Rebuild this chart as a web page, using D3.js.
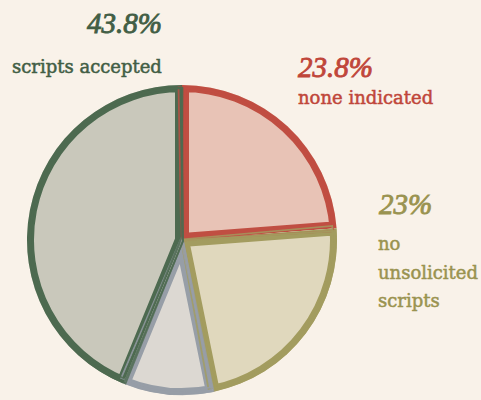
<!DOCTYPE html>
<html><head><meta charset="utf-8">
<script src="https://cdn.jsdelivr.net/npm/d3@7"></script>
<style>
html,body{margin:0;padding:0;background:#f9f2e9;}
svg{display:block;}
</style></head>
<body>
<svg id="chart" width="481" height="400"></svg>
<script>
// ---- data ----
const categories = ["none indicated", "no unsolicited scripts", "other", "scripts accepted"];
const values = [23.8, 23, 9.4, 43.8];
const pctLabels = ["23.8%", "23%", "", "43.8%"];
const labelLines = [["none indicated"], ["no", "unsolicited", "scripts"], [], ["scripts accepted"]];

// ---- styles ----
const strokeColors = ["#c04e42", "#a39c5f", "#979ea7", "#4d6a50"];
const fillColors = ["#e8c3b6", "#e0d8bd", "#dcd8d2", "#c9c8bb"];
const textColors = ["#c0463a", "#9a9350", "#979ea7", "#425e45"];

const svg = d3.select("#chart");
const cx = 182, cy = 240, R = 155;

const pie = d3.pie().sort(null).value(d => d)(values);
const arc = d3.arc().innerRadius(0).outerRadius(R);
const g = svg.append("g").attr("transform", `translate(${cx},${cy})`);
const defs = svg.append("defs");

// deterministic wobble for the sketch look
function wob(i, k) { return Math.sin(i * 12.9898 + k * 78.233) * 1.6; }

pie.forEach((p, i) => {
  const id = "clip" + i;
  defs.append("clipPath").attr("id", id).append("path").attr("d", arc(p));
  g.append("path").attr("d", arc(p)).attr("fill", fillColors[i]);
  g.append("path").attr("d", arc(p))
    .attr("fill", "none").attr("stroke", strokeColors[i])
    .attr("stroke-width", 14).attr("stroke-linejoin", "round")
    .attr("clip-path", `url(#${id})`);
});

// sketchy extra strokes
pie.forEach((p, i) => {
  for (let k = 0; k < 3; k++) {
    const a2 = d3.arc().innerRadius(0).outerRadius(R - 3 + wob(i, k))
      .startAngle(p.startAngle + 0.012 * wob(i, k + 3))
      .endAngle(p.endAngle - 0.012 * wob(i, k + 5));
    g.append("path").attr("d", a2())
      .attr("fill", "none").attr("stroke", strokeColors[i])
      .attr("stroke-width", 1.8).attr("stroke-opacity", 0.8)
      .attr("transform", `translate(${wob(i, k + 7) * 0.7},${wob(i, k + 9) * 0.7})`);
  }
});

// ---- labels ----
const pctPos = [[298, 77], [379, 214], null, [87, 33]];
const linePos = [[298, 104, 0], [378, 250, 28.5], null, [12, 73, 0]];

pie.forEach((p, i) => {
  if (!pctPos[i]) return;
  svg.append("text").attr("x", pctPos[i][0]).attr("y", pctPos[i][1])
    .attr("fill", textColors[i]).attr("stroke", textColors[i]).attr("stroke-width", 0.9)
    .style("font-family", "'Liberation Serif', serif").style("font-style", "italic")
    .style("font-size", "29px").text(pctLabels[i]);
  labelLines[i].forEach((t, j) => {
    svg.append("text").attr("x", linePos[i][0]).attr("y", linePos[i][1] + j * linePos[i][2])
      .attr("fill", textColors[i]).attr("stroke", textColors[i]).attr("stroke-width", 0.5)
      .style("font-family", "'DejaVu Serif', serif")
      .style("font-size", "18px").text(t);
  });
});
</script>
</body></html>
